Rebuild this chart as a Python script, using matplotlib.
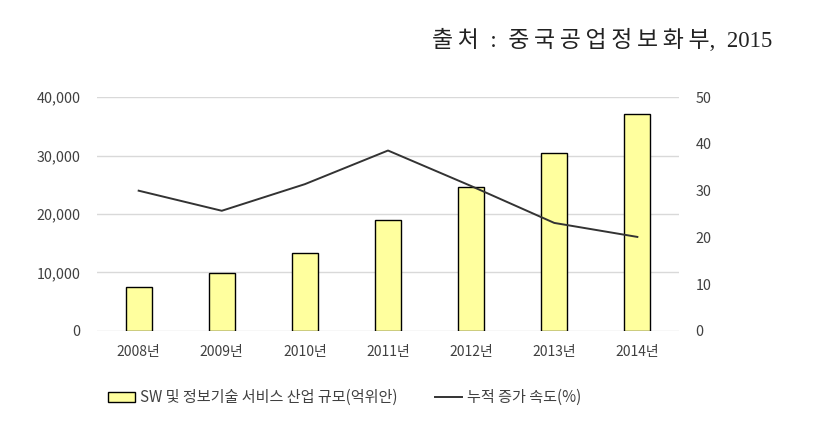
import numpy as np
import matplotlib.pyplot as plt
from matplotlib.patches import Patch
from matplotlib.lines import Line2D

plt.rcParams['font.family'] = ['Noto Sans CJK KR', 'DejaVu Sans']

# 데이터
years = ['2008년', '2009년', '2010년', '2011년', '2012년', '2013년', '2014년']
market = [7500, 9900, 13400, 18900, 24700, 30500, 37100]   # 억위안
growth = [30.0, 25.7, 31.4, 38.6, 31.0, 23.1, 20.1]         # %

fig = plt.figure(figsize=(8.16, 4.23), dpi=100)
ax = fig.add_axes([0.119, 0.218, 0.713, 0.552])
x = np.arange(len(years))

ax.bar(x, market, width=0.31, color='#FFFF9E', edgecolor='black', linewidth=1.0, zorder=3)
ax.set_ylim(0, 40000)
ax.set_xlim(-0.5, len(years) - 0.5)
ax.set_yticks([0, 10000, 20000, 30000, 40000])
ax.set_yticklabels(['0', '10,000', '20,000', '30,000', '40,000'])
ax.set_xticks(x)
ax.set_xticklabels(years)
ax.grid(axis='y', color='#D9D9D9', linewidth=1.0, zorder=0)
ax.tick_params(axis='y', length=0, labelsize=10.3, colors='#404040', pad=12)
ax.tick_params(axis='x', length=0, labelsize=10, colors='#404040', pad=10)
for s in ax.spines.values():
    s.set_visible(False)

ax2 = ax.twinx()
ax2.plot(x, growth, color='#333333', linewidth=1.4, zorder=4)
ax2.set_ylim(0, 50)
ax2.set_yticks([0, 10, 20, 30, 40, 50])
ax2.tick_params(length=0, labelsize=10.3, colors='#404040', pad=12)
for s in ax2.spines.values():
    s.set_visible(False)

# 범례
handles = [Patch(facecolor='#FFFF9E', edgecolor='black', linewidth=1.0),
           Line2D([0], [0], color='#333333', linewidth=1.4)]
labels = ['SW 및 정보기술 서비스 산업 규모(억위안)', '누적 증가 속도(%)']
fig.legend(handles, labels, loc='center left', bbox_to_anchor=(0.132, 0.06),
           ncol=2, frameon=False, fontsize=10.9, handlelength=1.8, handleheight=0.7,
           handletextpad=0.3, columnspacing=2.5, labelcolor='#404040',
           borderpad=0, borderaxespad=0)

# 출처
src = '\u2009'.join('출처') + '  :  ' + '\u2009'.join('중국공업정보화부') + ',  2015'
fig.text(0.946, 0.905, src, ha='right', va='center',
         fontsize=16.5, color='#222222', family=['Liberation Serif', 'Noto Sans CJK KR'])

fig.savefig('out.png', dpi=100)
